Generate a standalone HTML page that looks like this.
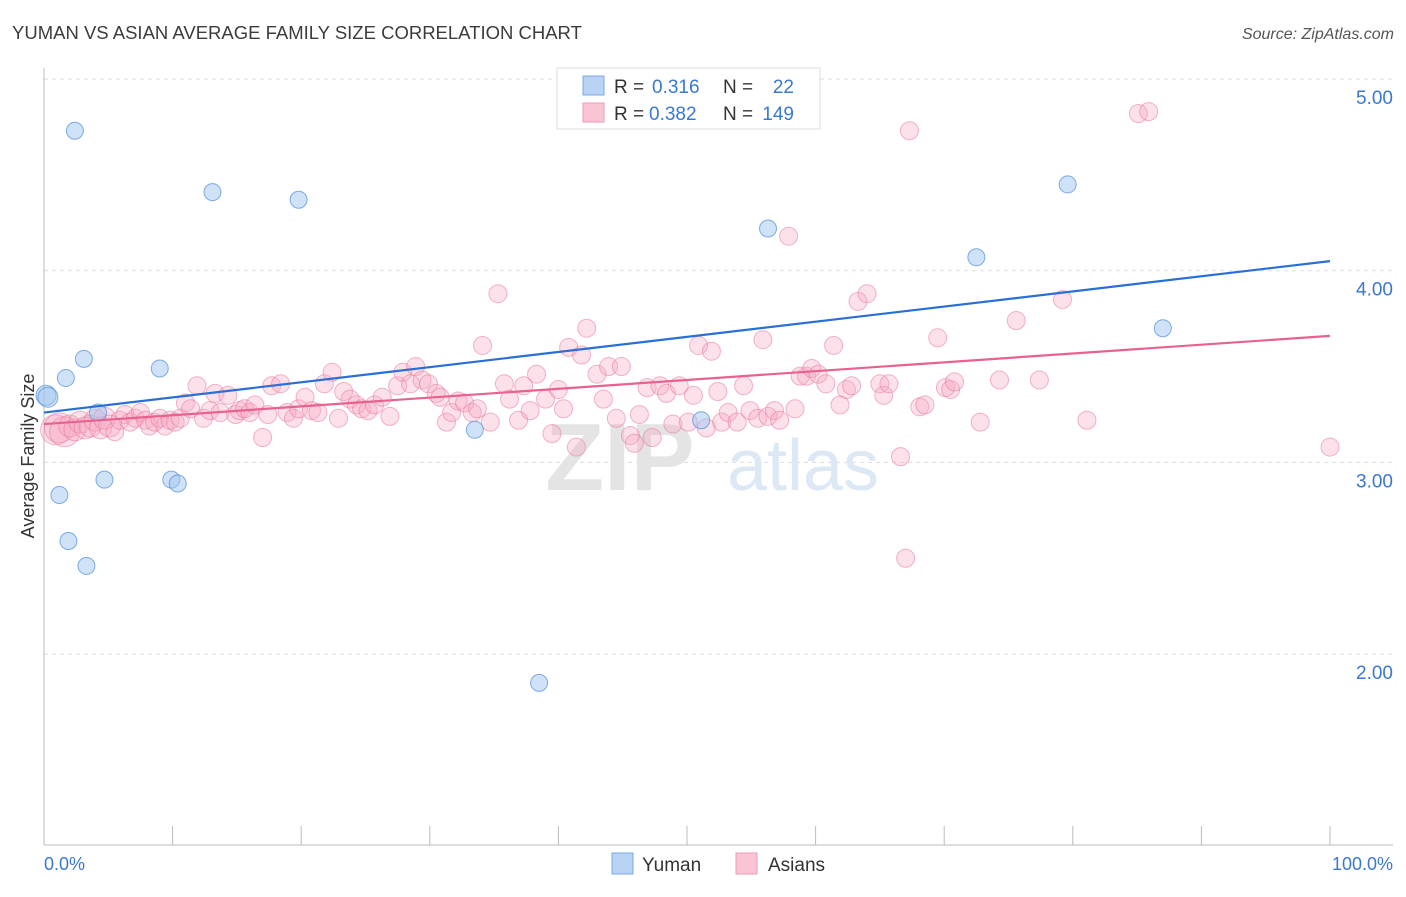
<!DOCTYPE html>
<html><head><meta charset="utf-8"><style>
body{margin:0;background:#fff;font-family:"Liberation Sans",sans-serif;}
svg text{font-family:"Liberation Sans",sans-serif;}
</style></head><body>
<svg id="chart" width="1406" height="892" viewBox="0 0 1406 892">
<text x="12" y="39" font-size="18.5" fill="#3c3c3c">YUMAN VS ASIAN AVERAGE FAMILY SIZE CORRELATION CHART</text>
<text x="1394" y="39" font-size="16" fill="#555" text-anchor="end" font-style="italic">Source: ZipAtlas.com</text>
<g id="grid"></g>
<g>
<text x="620" y="490" font-size="96" fill="#e4e4e4" text-anchor="middle" font-family="Liberation Serif" font-weight="bold">ZIP</text>
<text x="803" y="490" font-size="72" fill="#dde8f5" text-anchor="middle">atlas</text>
</g>
<line x1="44" y1="68" x2="44" y2="845" stroke="#bbb"/>
<line x1="44" y1="845" x2="1393" y2="845" stroke="#bbb"/>
<text transform="translate(34,456) rotate(-90)" font-size="18" fill="#333" text-anchor="middle">Average Family Size</text>
<text x="44" y="870" font-size="18" fill="#3a78d4">0.0%</text>
<text x="1393" y="870" font-size="18" fill="#3a78d4" text-anchor="end">100.0%</text>
<g id="pts"></g>
<g id="lines"></g>
<g>
<rect x="557" y="68" width="263" height="61" fill="#fff" stroke="#ddd"/>
<rect x="583" y="76" width="21" height="19" fill="#b8d3f4" stroke="#7aa8e6"/>
<rect x="583" y="103" width="21" height="19" fill="#f9c5d5" stroke="#ee9ab4"/>
<text x="614" y="93" font-size="19" fill="#333">R = </text><text x="652" y="93" font-size="19" fill="#3a78d4">0.316</text>
<text x="723" y="93" font-size="19" fill="#333">N = </text><text x="794" y="93" font-size="19" fill="#3a78d4" text-anchor="end">22</text>
<text x="614" y="120" font-size="19" fill="#333">R = </text><text x="649" y="120" font-size="19" fill="#3a78d4">0.382</text>
<text x="723" y="120" font-size="19" fill="#333">N = </text><text x="794" y="120" font-size="19" fill="#3a78d4" text-anchor="end">149</text>
</g>
<g>
<rect x="612" y="853" width="21" height="21" fill="#b8d3f4" stroke="#7aa8e6"/>
<text x="642" y="871" font-size="19" fill="#333">Yuman</text>
<rect x="736" y="853" width="21" height="21" fill="#f9c5d5" stroke="#ee9ab4"/>
<text x="768" y="871" font-size="19" fill="#333">Asians</text>
</g>
</svg>
<script>
const yTicks=[5,4,3,2];
const yTickLabels=["5.00","4.00","3.00","2.00"];
const xTicks=[0,10,20,30,40,50,60,70,80,90,100];
const yumanX=[0.16,0.3,2.4,1.7,3.1,4.2,1.2,1.9,4.7,3.3,9.0,9.9,10.4,13.1,19.8,33.5,38.5,51.1,56.3,72.5,79.6,87.0];
const yumanY=[3.35,3.34,4.73,3.44,3.54,3.26,2.83,2.59,2.91,2.46,3.49,2.91,2.89,4.41,4.37,3.17,1.85,3.22,4.22,4.07,4.45,3.70];
const asianX=[0.9,1.2,1.6,2.0,2.4,2.8,3.2,3.6,4.0,4.4,4.7,5.1,5.5,5.9,6.3,6.7,7.1,7.5,7.9,8.2,8.6,9.0,9.4,9.8,10.2,10.6,11.0,11.4,11.9,12.4,12.9,13.3,13.7,14.3,14.9,15.2,15.6,16.0,16.4,17.0,17.4,17.7,18.4,18.9,19.4,19.8,20.3,20.8,21.3,21.8,22.4,22.9,23.3,23.8,24.3,24.7,25.2,25.7,26.3,26.9,27.5,27.9,28.5,28.9,29.4,29.9,30.5,30.8,31.3,31.7,32.2,32.7,33.3,33.7,34.1,34.7,35.3,35.8,36.2,36.9,37.3,37.8,38.3,39.0,39.5,40.0,40.4,40.8,41.4,41.8,42.2,43.0,43.5,43.9,44.5,44.9,45.6,45.9,46.3,46.9,47.3,47.9,48.4,48.9,49.4,50.1,50.5,50.9,51.5,51.9,52.4,52.7,53.2,53.9,54.4,54.9,55.5,55.9,56.3,56.8,57.2,57.9,58.4,58.8,59.3,59.7,60.2,60.8,61.4,61.9,62.4,62.8,63.3,64.0,65.0,65.3,65.7,66.6,67.0,67.3,68.1,68.5,69.5,70.1,70.5,70.8,72.8,74.3,75.6,77.4,79.2,81.1,85.1,85.9,100.0];
const asianY=[3.17,3.18,3.16,3.19,3.17,3.21,3.18,3.19,3.22,3.18,3.23,3.19,3.16,3.22,3.25,3.21,3.23,3.26,3.22,3.19,3.21,3.23,3.19,3.22,3.21,3.23,3.31,3.28,3.40,3.23,3.27,3.36,3.26,3.35,3.25,3.27,3.28,3.26,3.30,3.13,3.25,3.40,3.41,3.26,3.23,3.28,3.34,3.27,3.26,3.41,3.47,3.23,3.37,3.33,3.30,3.28,3.27,3.30,3.34,3.24,3.40,3.47,3.41,3.50,3.43,3.41,3.36,3.34,3.21,3.26,3.32,3.31,3.26,3.28,3.61,3.21,3.88,3.41,3.33,3.22,3.40,3.27,3.46,3.33,3.15,3.38,3.28,3.60,3.08,3.56,3.70,3.46,3.33,3.50,3.23,3.50,3.14,3.10,3.25,3.39,3.13,3.40,3.36,3.20,3.40,3.21,3.35,3.61,3.18,3.58,3.37,3.21,3.26,3.21,3.40,3.27,3.23,3.64,3.24,3.27,3.22,4.18,3.28,3.45,3.45,3.49,3.46,3.41,3.61,3.30,3.38,3.40,3.84,3.88,3.41,3.35,3.41,3.03,2.50,4.73,3.29,3.30,3.65,3.39,3.38,3.42,3.21,3.43,3.74,3.43,3.85,3.22,4.82,4.83,3.08];
const yumanTrend=[3.26,4.05];
const asianTrend=[3.20,3.66];
const NS="http://www.w3.org/2000/svg";
const sx=p=>44+p*12.86;
const sy=v=>79+(5-v)*191.7;
function mk(tag,attrs,parent){const e=document.createElementNS(NS,tag);for(const k in attrs)e.setAttribute(k,attrs[k]);parent.appendChild(e);return e;}
const grid=document.getElementById('grid');
yTicks.forEach((v,i)=>{
 const l=mk('line',{x1:44,x2:1393,y1:sy(v),y2:sy(v),stroke:'#ddd','stroke-dasharray':'4 4'},grid);
 
 
 const t=mk('text',{x:1393,y:sy(v)+25,'font-size':19,fill:'#3a78d4','text-anchor':'end'},grid);
 t.textContent=yTickLabels[i];
 
 
});
xTicks.forEach(p=>{
 const l=mk('line',{x1:sx(p),x2:sx(p),y1:826,y2:845,stroke:'#bbb'},grid);
 
 
});
const pts=document.getElementById('pts');
asianX.forEach((x,i)=>{
 const r=i<3?15:(i<12?11:9);
 const c=mk('circle',{cx:sx(x),cy:sy(asianY[i]),r:r,fill:'rgba(246,170,195,0.35)',stroke:'rgba(232,120,155,0.55)','stroke-width':1},pts);
 
 
});
yumanX.forEach((x,i)=>{
 const r=i<2?10:8.5;
 const c=mk('circle',{cx:sx(x),cy:sy(yumanY[i]),r:r,fill:'rgba(160,198,240,0.5)',stroke:'rgba(80,140,220,0.7)','stroke-width':1},pts);
 
 
});
const lines=document.getElementById('lines');
const lb=mk('line',{x1:sx(0),y1:sy(yumanTrend[0]),x2:sx(100),y2:sy(yumanTrend[1]),stroke:'#2a6fd6','stroke-width':2.2},lines);


const lp=mk('line',{x1:sx(0),y1:sy(asianTrend[0]),x2:sx(100),y2:sy(asianTrend[1]),stroke:'#e8628f','stroke-width':2.2},lines);


</script>
</body></html>
